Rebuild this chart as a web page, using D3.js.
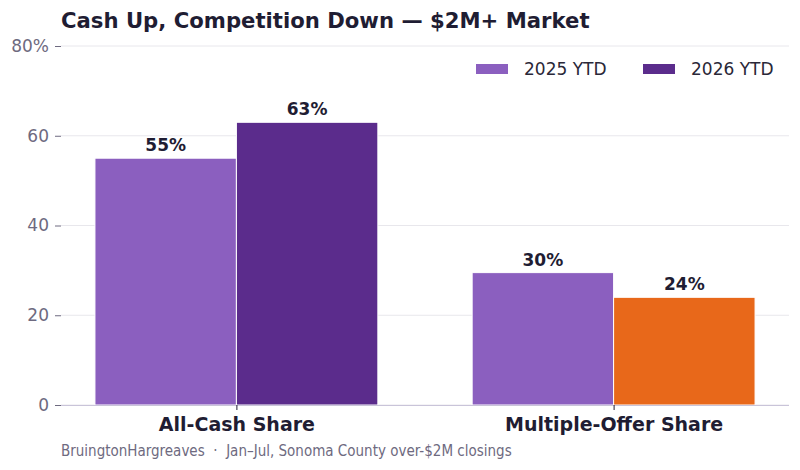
<!DOCTYPE html>
<html lang="en">
<head>
  <meta charset="utf-8">
  <title>Cash Up, Competition Down</title>
  <script src="https://cdn.jsdelivr.net/npm/d3@7"></script>
  <style>
    body { margin: 0; background: #fff; }
    text { font-family: "DejaVu Sans", sans-serif; }
  </style>
</head>
<body>
<script>
// data
const categories = ["All-Cash Share", "Multiple-Offer Share"];
const series = ["2025 YTD", "2026 YTD"];
const values2025 = [55, 29.5];
const values2026 = [63, 24];
const valueLabels2025 = ["55%", "30%"];
const valueLabels2026 = ["63%", "24%"];
const yTicks = [0, 20, 40, 60, 80];

const width = 800, height = 470;
const margin = {top: 46, right: 11, bottom: 65, left: 61};

const colors = {"2025 YTD": "#8b5fbf", "2026 YTD": "#5b2c8c"};
const highlight = "#e8681a";

const svg = d3.select("body").append("svg")
  .attr("width", width).attr("height", height);

const x = d3.scaleLinear()
  .domain([-0.465, 1.465])
  .range([margin.left, width - margin.right]);
const y = d3.scaleLinear()
  .domain([0, 80])
  .range([height - margin.bottom, margin.top]);

// grid
svg.append("g")
  .selectAll("line")
  .data(yTicks)
  .join("line")
  .attr("x1", margin.left).attr("x2", width - margin.right)
  .attr("y1", d => y(d)).attr("y2", d => y(d))
  .attr("stroke", "#e8e7ec").attr("stroke-width", 1);

// y axis
const yAxis = svg.append("g")
  .attr("transform", `translate(${margin.left},0)`)
  .call(d3.axisLeft(y).tickValues(yTicks).tickSize(6).tickPadding(6)
    .tickFormat(d => d === 80 ? "80%" : d));
yAxis.select(".domain").remove();
yAxis.selectAll(".tick line").attr("stroke", "#6e6a80");
yAxis.selectAll(".tick text")
  .attr("fill", "#6e6a80").attr("font-size", 17)
  .style("font-family", "DejaVu Sans, sans-serif");

// bars
const barW = 0.375;
const rows = [];
categories.forEach((c, i) => {
  rows.push({cat: i, s: "2025 YTD", v: values2025[i], label: valueLabels2025[i], off: -barW / 2});
  rows.push({cat: i, s: "2026 YTD", v: values2026[i], label: valueLabels2026[i], off: barW / 2});
});

const bw = x(barW) - x(0);
svg.append("g")
  .selectAll("rect")
  .data(rows)
  .join("rect")
  .attr("x", d => x(d.cat + d.off) - bw / 2)
  .attr("width", bw)
  .attr("y", d => y(d.v))
  .attr("height", d => y(0) - y(d.v))
  .attr("fill", d => (d.cat === 1 && d.s === "2026 YTD") ? highlight : colors[d.s])
  .attr("stroke", "#fff").attr("stroke-width", 1);

svg.append("g")
  .selectAll("text")
  .data(rows)
  .join("text")
  .attr("x", d => x(d.cat + d.off))
  .attr("y", d => y(d.v) - 7)
  .attr("text-anchor", "middle")
  .attr("font-size", 17).attr("font-weight", "bold")
  .attr("fill", "#1f1d33")
  .text(d => d.label);

// x axis
const xAxis = svg.append("g")
  .attr("transform", `translate(0,${y(0)})`)
  .call(d3.axisBottom(x).tickValues([0, 1]).tickSize(5).tickPadding(8)
    .tickFormat(i => categories[i]));
xAxis.select(".domain").attr("stroke", "#c9c4d9")
  .attr("d", `M${margin.left},0.5H${width - margin.right}`);
xAxis.selectAll(".tick line").attr("stroke", "#1f1d33");
xAxis.selectAll(".tick text")
  .attr("fill", "#1f1d33").attr("font-size", 19).attr("font-weight", "bold")
  .style("font-family", "DejaVu Sans, sans-serif");

// legend
const legend = svg.append("g");
const legendX = [476, 643];
series.forEach((s, i) => {
  legend.append("rect")
    .attr("x", legendX[i]).attr("y", 64)
    .attr("width", 32).attr("height", 10)
    .attr("fill", colors[s]);
  legend.append("text")
    .attr("x", legendX[i] + 48).attr("y", 75)
    .attr("font-size", 17).attr("fill", "#2a2838")
    .text(s);
});

// title and footer
svg.append("text")
  .attr("x", 61).attr("y", 28)
  .attr("font-size", 21.2).attr("font-weight", "bold")
  .attr("fill", "#1f1d33")
  .text("Cash Up, Competition Down \u2014 $2M+ Market");

svg.append("text")
  .attr("x", 61).attr("y", 456)
  .attr("font-size", 15).attr("fill", "#6e6a80")
  .style("font-family", "'DejaVu Sans Condensed', 'DejaVu Sans', sans-serif")
  .style("font-stretch", "condensed")
  .style("white-space", "pre")
  .text("BruingtonHargreaves  \u00b7  Jan\u2013Jul, Sonoma County over-$2M closings");
</script>
</body>
</html>
